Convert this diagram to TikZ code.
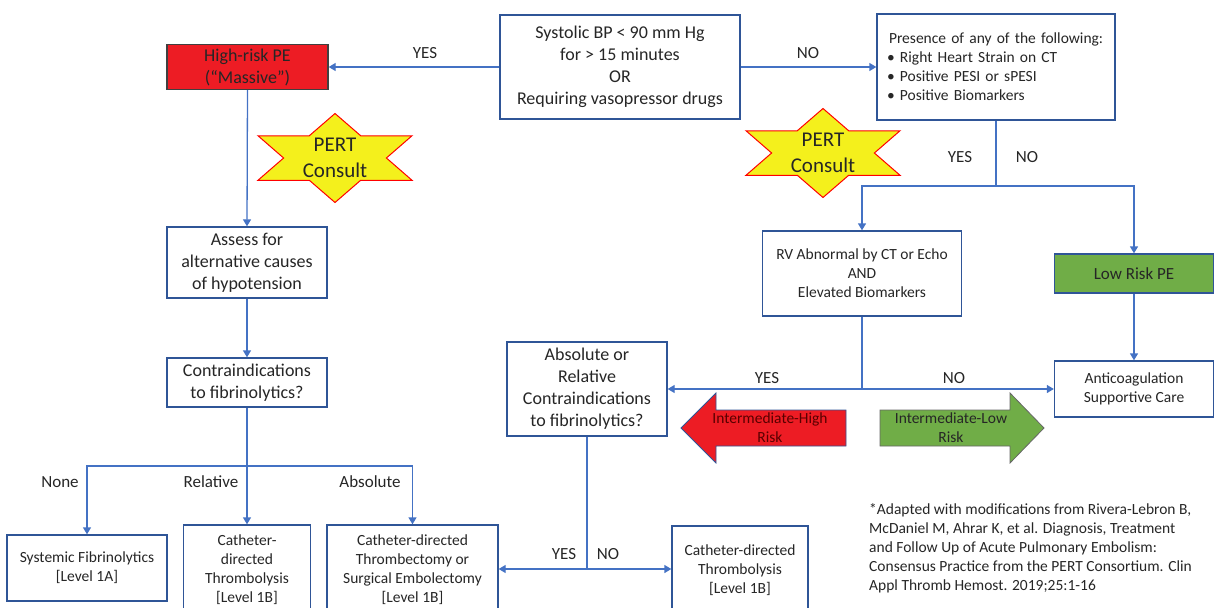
\documentclass[tikz,border=0pt]{standalone}
\usepackage{fontspec}
\setmainfont{Carlito}
\usetikzlibrary{arrows.meta}
\definecolor{linkblue}{HTML}{4472C4}
\definecolor{boxblue}{HTML}{2F5597}
\definecolor{highred}{HTML}{ED1C24}
\definecolor{lowgreen}{HTML}{70AD47}
\definecolor{staryellow}{HTML}{F4F01C}

\begin{document}
\begin{tikzpicture}[x=1pt,y=-1pt]
\tikzset{
  box/.style={draw=boxblue,line width=1.3pt,fill=white,align=center,
    inner sep=0pt,text=black!85,font=\fontsize{18}{22}\selectfont},
  smallbox/.style={box,font=\fontsize{15.5}{19}\selectfont},
  link/.style={draw=linkblue,line width=1.3pt,
    -{Triangle[width=8pt,length=7pt]}},
  wire/.style={draw=linkblue,line width=1.3pt},
  answer/.style={font=\fontsize{17}{20}\selectfont,text=black!85},
  arrowtext/.style={align=center,font=\fontsize{15.5}{19}\selectfont},
  starfill/.style={fill=staryellow,draw=red,line width=1pt}
}
\useasboundingbox (0,0) rectangle (1216,608);

% top row
\node[box,minimum width=240pt,minimum height=104pt] (systolic) at (620,67)
  {Systolic BP < 90 mm Hg\\for > 15 minutes\\OR\\Requiring vasopressor drugs};
\node[box,fill=highred,draw=black!75,minimum width=161pt,minimum height=45pt]
  (highrisk) at (247.5,67) {High-risk PE\\(“Massive”)};
\node[smallbox,align=left,text width=226pt,inner xsep=6pt,
  minimum height=106pt] (presence) at (996,67)
  {\hspace*{6pt}Presence of any of the following:\\
   \hspace*{4pt}\makebox[13pt][l]{\textbullet}Right Heart Strain on CT\\
   \hspace*{4pt}\makebox[13pt][l]{\textbullet}Positive PESI or sPESI\\
   \hspace*{4pt}\makebox[13pt][l]{\textbullet}Positive Biomarkers};

% PERT stars
\foreach \cx/\cy/\nm in {335/158/pertL,823/153/pertR}{
  \draw[starfill,shift={(\cx,\cy)}] (0,-44.5) -- (25.7,-22.25) -- (77,-22.25)
    -- (51.4,0) -- (77,22.25) -- (25.7,22.25) -- (0,44.5) -- (-25.7,22.25)
    -- (-77,22.25) -- (-51.4,0) -- (-77,-22.25) -- (-25.7,-22.25) -- cycle;
  \node[align=center,text=black!85,font=\fontsize{21}{26}\selectfont]
    (\nm) at (\cx,\cy) {PERT\\Consult};
}

% left branch
\node[box,minimum width=160pt,minimum height=71pt] (assess) at (247,262.5)
  {Assess for\\alternative causes\\of hypotension};
\node[box,minimum width=160pt,minimum height=49pt] (contra) at (247,382.5)
  {Contraindications\\to fibrinolytics?};
\node[smallbox,minimum width=160pt,minimum height=66pt] (systemic) at (87,568)
  {Systemic Fibrinolytics\\{[Level 1A]}};
\node[smallbox,minimum width=127pt,minimum height=90pt] (cathrel) at (247,570)
  {Catheter-\\directed\\Thrombolysis\\{[Level 1B]}};
\node[smallbox,minimum width=171pt,minimum height=90pt] (thromb) at (412.5,570)
  {Catheter-directed\\Thrombectomy or\\Surgical Embolectomy\\{[Level 1B]}};

% right branch
\node[smallbox,minimum width=199pt,minimum height=85pt] (rv) at (862,273.5)
  {RV Abnormal by CT or Echo\\AND\\Elevated Biomarkers};
\node[box,fill=lowgreen,font=\fontsize{17}{20}\selectfont,
  minimum width=159pt,minimum height=39pt] (lowrisk) at (1134,273.5)
  {Low Risk PE};
\node[smallbox,minimum width=159pt,minimum height=56pt] (anticoag)
  at (1134,389) {Anticoagulation\\Supportive Care};
\node[box,minimum width=160pt,minimum height=94pt] (absolute) at (587,389)
  {Absolute or\\Relative\\Contraindications\\to fibrinolytics?};
\node[smallbox,minimum width=136pt,minimum height=88pt] (cathright)
  at (740,570) {Catheter-directed\\Thrombolysis\\{[Level 1B]}};

% risk arrows
\draw[fill=highred,draw=boxblue,line width=0.8pt] (681,428) -- (716,393)
  -- (716,410) -- (846,410) -- (846,446) -- (716,446) -- (716,463) -- cycle;
\node[arrowtext,text=red!35!black] (ihigh) at (770,428)
  {Intermediate-High\\Risk};
\draw[fill=lowgreen,draw=black!60,line width=0.8pt] (1044,428) -- (1010,393)
  -- (1010,410) -- (880,410) -- (880,446) -- (1010,446) -- (1010,463) -- cycle;
\node[arrowtext,text=black!85] (ilow) at (951,428) {Intermediate-Low\\Risk};

% connectors
\coordinate (forkA) at (247,466);
\coordinate (forkB) at (996,186);
\coordinate (forkC) at (862,389);
\coordinate (forkD) at (587,569);

\draw[link] (systolic.west) -- (systolic.west -| highrisk.east);
\draw[link] (systolic.east) -- (systolic.east -| presence.west);
\draw[link] (highrisk.south) -- (assess.north);
\draw[link] (assess.south) -- (contra.north);
\draw[wire] (contra.south) -- (forkA);
\draw[link] (forkA) -| (systemic.north);
\draw[link] (forkA) -- (cathrel.north);
\draw[link] (forkA) -| (thromb.north);

\draw[wire] (presence.south) -- (forkB);
\draw[link] (forkB) -| (rv.north);
\draw[link] (forkB) -| (lowrisk.north);
\draw[wire] (rv.south) -- (forkC);
\draw[link] (forkC) -- (absolute.east);
\draw[link] (forkC) -- (anticoag.west);
\draw[link] (lowrisk.south) -- (anticoag.north);
\draw[wire] (absolute.south) -- (forkD);
\draw[link] (forkD) -- (forkD -| thromb.east);
\draw[link] (forkD) -- (forkD -| cathright.west);

% answers
\node[answer] (yesA) at (425,53) {YES};
\node[answer] (noA) at (808,53) {NO};
\node[answer] (yesB) at (960,157) {YES};
\node[answer] (noB) at (1027,157) {NO};
\node[answer] (yesC) at (767,378) {YES};
\node[answer] (noC) at (954,378) {NO};
\node[answer] (yesD) at (564,554) {YES};
\node[answer] (noD) at (608,554) {NO};
\node[answer] (none) at (60,482) {None};
\node[answer] (relative) at (211,482) {Relative};
\node[answer] (absol) at (370,482) {Absolute};

% source
\node[anchor=north west,align=left,inner sep=0pt,text=black!85,
  font=\fontsize{15.5}{19}\selectfont] (source) at (869,503)
  {*Adapted with modifications from Rivera-Lebron B,\\
   McDaniel M, Ahrar K, et al. Diagnosis, Treatment\\
   and Follow Up of Acute Pulmonary Embolism:\\
   Consensus Practice from the PERT Consortium. Clin\\
   Appl Thromb Hemost. 2019;25:1-16};
\end{tikzpicture}
\end{document}
